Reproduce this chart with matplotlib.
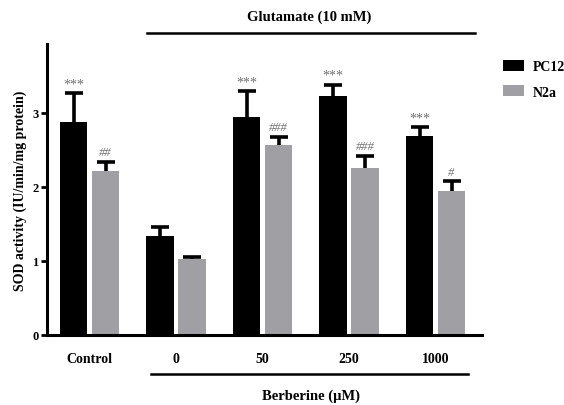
import matplotlib
matplotlib.use("Agg")
import matplotlib.pyplot as plt
from matplotlib.lines import Line2D
import numpy as np

# SOD activity per treatment group
groups = ["Control", "0", "50", "250", "1000"]
pc12_mean = [2.88, 1.34, 2.94, 3.23, 2.69]
pc12_err = [0.39, 0.12, 0.35, 0.15, 0.12]
n2a_mean = [2.21, 1.02, 2.57, 2.25, 1.94]
n2a_err = [0.13, 0.03, 0.11, 0.17, 0.14]
pc12_marks = ["***", "", "***", "***", "***"]
n2a_marks = ["##", "", "###", "###", "#"]

plt.rcParams["font.family"] = ["Liberation Serif", "DejaVu Serif"]
plt.rcParams["font.weight"] = "bold"

W, H = 564, 406
fig = plt.figure(figsize=(W / 100, H / 100), dpi=100)
ax = fig.add_axes([46.7 / W, 1 - 336 / H, (481.7 - 46.7) / W, (336 - 45) / H])

x = np.arange(len(groups))
bw = 0.318
off = 0.185
black = "#000000"
gray = "#a0a0a4"

b1 = ax.bar(x - off, pc12_mean, bw, color=black, label="PC12", zorder=2)
b2 = ax.bar(x + off, n2a_mean, bw, color=gray, label="N2a", zorder=2)

# upper-only error bars: hide the cap at the bar top
ekw = dict(fmt="none", ecolor="black", elinewidth=2.6, capsize=6.5, capthick=2.6, zorder=3)
for xs, m, e in [(x - off, pc12_mean, pc12_err), (x + off, n2a_mean, n2a_err)]:
    cont = ax.errorbar(xs, m, yerr=[np.zeros(len(x)), e], **ekw)
    cont.lines[1][0].set_visible(False)

mark_kw = dict(textcoords="offset points", ha="center", va="bottom",
               color="#707070", fontweight="normal")
for xi, m, e, s in zip(x - off, pc12_mean, pc12_err, pc12_marks):
    if s:
        ax.annotate(s, (xi, m + e), xytext=(0, 2), fontsize=10, **mark_kw)
for xi, m, e, s in zip(x + off, n2a_mean, n2a_err, n2a_marks):
    if s:
        ax.annotate(s, (xi, m + e), xytext=(0, 2.5), fontsize=9, fontstyle="italic", **mark_kw)

ax.set_xlim(-0.495, 4.534)
ax.set_ylim(0, 3.93)
ax.set_yticks([0, 1, 2, 3])
ax.set_xticks(x)
ax.set_xticklabels(groups, fontsize=10, fontweight="bold")
ax.tick_params(axis="x", length=0, pad=12)
ax.tick_params(axis="y", length=4, width=2, labelsize=9, pad=2)
for lab in ax.get_yticklabels():
    lab.set_fontweight("bold")
ax.spines["top"].set_visible(False)
ax.spines["right"].set_visible(False)
ax.spines["left"].set_linewidth(2.2)
ax.spines["bottom"].set_linewidth(2.2)
ax.set_ylabel("SOD activity (IU/min/mg protein)", fontsize=10, fontweight="bold", labelpad=4)

# Treatment brackets above and below the axes
fig.add_artist(Line2D([147 / W, 475 / W], [1 - 34 / H, 1 - 34 / H], color="black", lw=1.8,
                      transform=fig.transFigure))
fig.text(309 / W, 1 - 17 / H, "Glutamate (10 mM)", ha="center", va="center",
         fontsize=10.5, fontweight="bold")
fig.add_artist(Line2D([150.7 / W, 467.7 / W], [1 - 375 / H, 1 - 375 / H], color="black", lw=1.8,
                      transform=fig.transFigure))
fig.text(311 / W, 1 - 396 / H, "Berberine (\u03bcM)", ha="center", va="center",
         fontsize=10.5, fontweight="bold")

leg = fig.legend(handles=[b1, b2], loc="upper left", bbox_to_anchor=(497 / W, 1 - 55 / H),
                 frameon=False, fontsize=10, handlelength=1.55, handleheight=0.85,
                 handletextpad=0.6, labelspacing=0.9, borderaxespad=0)
for t in leg.get_texts():
    t.set_fontweight("bold")

fig.savefig("out.png", dpi=100)
